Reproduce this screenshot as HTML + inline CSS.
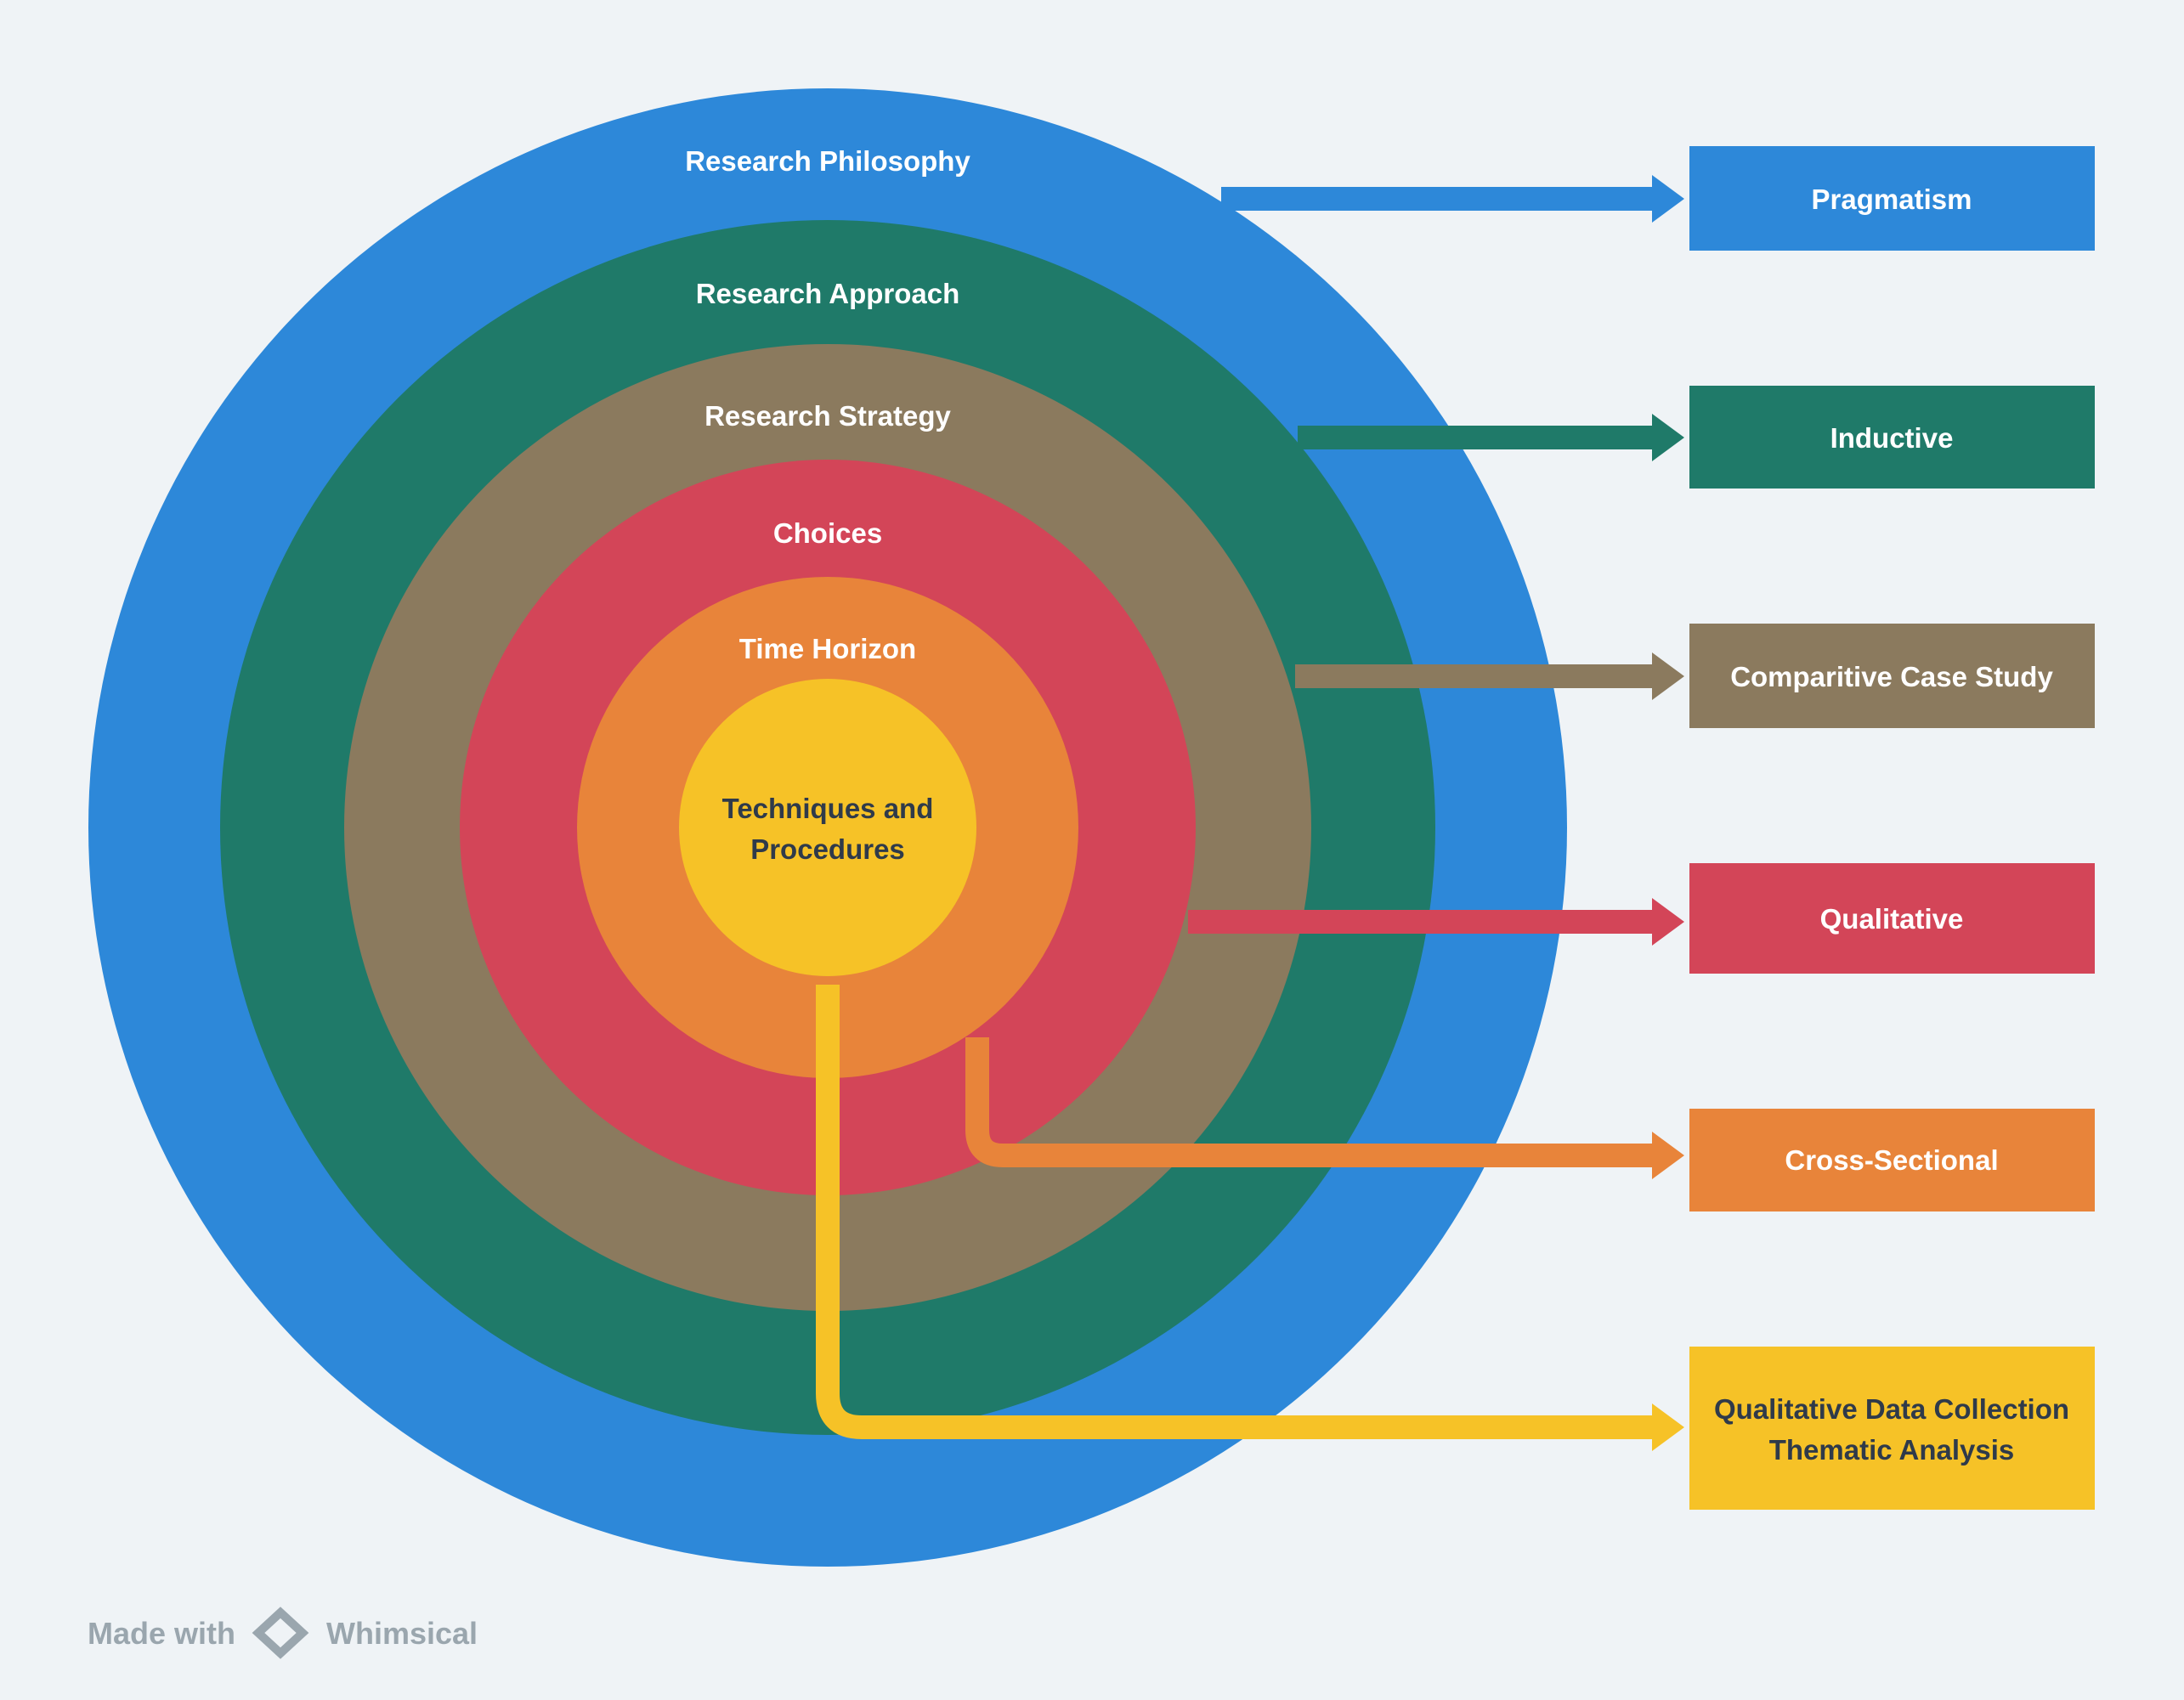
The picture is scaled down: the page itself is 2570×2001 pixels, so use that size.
<!DOCTYPE html>
<html><head><meta charset="utf-8"><style>
html,body{margin:0;padding:0;background:#eff3f6;}
svg{display:block;}
text{font-family:"Liberation Sans",sans-serif;font-weight:bold;}
</style></head><body>
<svg width="2570" height="2001" viewBox="0 0 2570 2001" xmlns="http://www.w3.org/2000/svg">
<rect width="2570" height="2001" fill="#eff3f6"/>
<circle cx="974" cy="974" r="870" fill="#2d88d9"/>
<circle cx="974" cy="974" r="715" fill="#1f7a69"/>
<circle cx="974" cy="974" r="569" fill="#8b7a5e"/>
<circle cx="974" cy="974" r="433" fill="#d34558"/>
<circle cx="974" cy="974" r="295" fill="#e8843a"/>
<circle cx="974" cy="974" r="175" fill="#f6c227"/>
<g font-size="33" fill="#fff" text-anchor="middle">
<text x="974" y="201">Research Philosophy</text>
<text x="974" y="357">Research Approach</text>
<text x="974" y="501">Research Strategy</text>
<text x="974" y="639">Choices</text>
<text x="974" y="775">Time Horizon</text>
<text x="974" y="963" fill="#2f3a4a">Techniques and</text>
<text x="974" y="1011" fill="#2f3a4a">Procedures</text>
</g>
<g fill="none" stroke-width="28">
<line x1="1437" y1="234" x2="1950" y2="234" stroke="#2d88d9"/>
<line x1="1527" y1="515" x2="1950" y2="515" stroke="#1f7a69"/>
<line x1="1524" y1="796" x2="1950" y2="796" stroke="#8b7a5e"/>
<line x1="1398" y1="1085" x2="1950" y2="1085" stroke="#d34558"/>
<path d="M1150 1221 V1330 Q1150 1360 1180 1360 H1950" stroke="#e8843a"/>
<path d="M974 1159 V1640 Q974 1680 1014 1680 H1950" stroke="#f6c227"/>
</g>
<polygon points="1944,206 1982,234 1944,262" fill="#2d88d9"/>
<polygon points="1944,487 1982,515 1944,543" fill="#1f7a69"/>
<polygon points="1944,768 1982,796 1944,824" fill="#8b7a5e"/>
<polygon points="1944,1057 1982,1085 1944,1113" fill="#d34558"/>
<polygon points="1944,1332 1982,1360 1944,1388" fill="#e8843a"/>
<polygon points="1944,1652 1982,1680 1944,1708" fill="#f6c227"/>
<g>
<rect x="1988" y="172" width="477" height="123" fill="#2d88d9"/>
<rect x="1988" y="454" width="477" height="121" fill="#1f7a69"/>
<rect x="1988" y="734" width="477" height="123" fill="#8b7a5e"/>
<rect x="1988" y="1016" width="477" height="130" fill="#d34558"/>
<rect x="1988" y="1305" width="477" height="121" fill="#e8843a"/>
<rect x="1988" y="1585" width="477" height="192" fill="#f6c227"/>
</g>
<g font-size="33" fill="#fff" text-anchor="middle">
<text x="2226" y="246">Pragmatism</text>
<text x="2226" y="527">Inductive</text>
<text x="2226" y="808">Comparitive Case Study</text>
<text x="2226" y="1093">Qualitative</text>
<text x="2226" y="1377">Cross-Sectional</text>
<text x="2226" y="1670" fill="#2f3a4a">Qualitative Data Collection</text>
<text x="2226" y="1718" fill="#2f3a4a">Thematic Analysis</text>
</g>
<g fill="#9aa6ae" font-size="36">
<text x="103" y="1935">Made with</text>
<polygon points="330,1898 356,1922 330,1946 304,1922" fill="none" stroke="#9aa6ae" stroke-width="10"/>
<text x="384" y="1935">Whimsical</text>
</g>
</svg>
</body></html>
